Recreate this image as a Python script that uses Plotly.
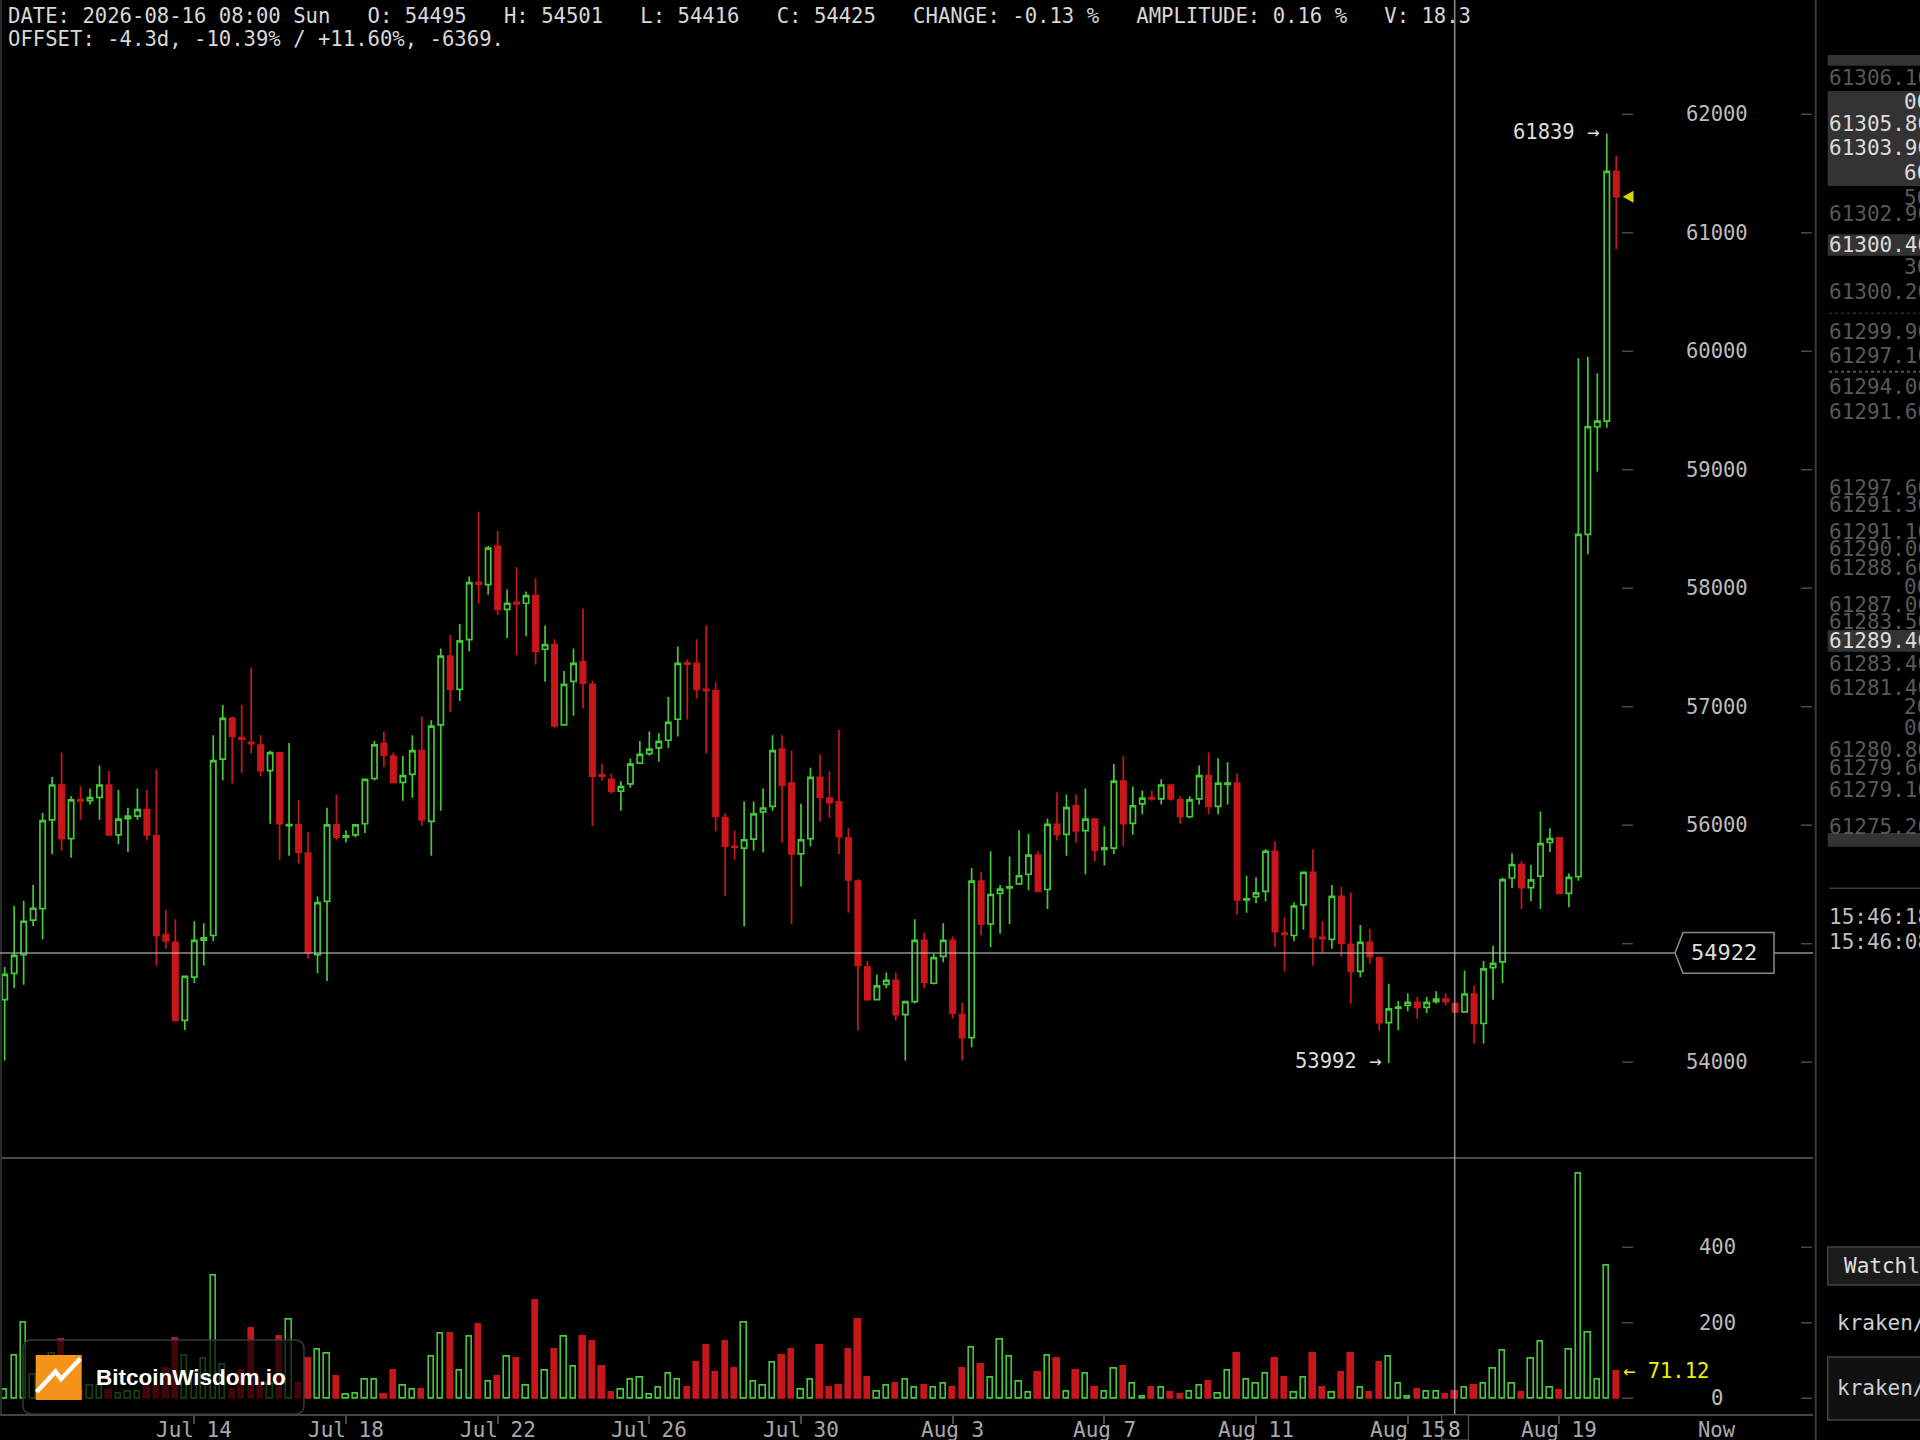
import plotly.graph_objects as go
import pandas as pd

W, H = 1920, 1440


def px(x):
    return x / W


def py(y):
    return 1 - y / H


# ---------------- data (6h candles) ----------------
times = pd.date_range("2026-07-09 00:00", periods=171, freq="6h")

opens = [54527, 54750, 54908, 55198, 55296, 56045, 56339, 55886, 56215, 56206,
         56235, 56339, 55919, 56055, 56077, 56132, 55909, 55076, 55011, 54352,
         54717, 55030, 55069, 56558, 56901, 56740, 56700, 56675, 56461, 56610,
         55995, 56003, 55764, 54908, 55357, 56003, 55899, 55919, 56012, 56394,
         56691, 56584, 56361, 56429, 56629, 56032, 56846, 57427, 57146, 57566,
         58050, 58031, 58354, 57821, 57880, 57873, 57938, 57485, 57524, 56846,
         57214, 57379, 57188, 56425, 56387, 56287, 56348, 56523, 56604, 56652,
         56717, 56894, 57370, 57366, 57146, 57136, 56064, 55822, 55806, 55883,
         56113, 56158, 56642, 56355, 55757, 55886, 56403, 56229, 56197, 55893,
         55528, 54804, 54527, 54656, 54691, 54401, 54511, 55027, 54666, 54892,
         55027, 54401, 54207, 55528, 55166, 55425, 55470, 55505, 55586, 55748,
         55457, 56006, 55922, 56164, 55954, 56051, 55795, 55806, 56371, 56016,
         56180, 56232, 56222, 56339, 56213, 56071, 56222, 56419, 56158, 56345,
         56355, 55370, 55396, 55441, 55780, 55090, 55069, 55328, 55602, 55053,
         55037, 55399, 54995, 54766, 55011, 54882, 54333, 54455, 54478, 54504,
         54462, 54511, 54533, 54495, 54425, 54575, 54326, 54798, 54846, 55554,
         55667, 55473, 55570, 55854, 55893, 55425, 55565, 58455, 59363, 59411,
         61519]

highs = [54804, 55318, 55363, 55496, 56103, 56407, 56613, 56245, 56329, 56310,
         56503, 56458, 56297, 56148, 56310, 56297, 56471, 55286, 55205, 54730,
         55189, 55173, 56759, 57014, 56917, 57014, 57330, 56759, 56629, 56615,
         56694, 56213, 55941, 55399, 56148, 56258, 55958, 56010, 56395, 56710,
         56791, 56613, 56584, 56759, 56917, 56885, 57492, 57605, 57699, 58099,
         58645, 58357, 58483, 57989, 58180, 57973, 58083, 57686, 57569, 57301,
         57492, 57828, 57220, 56516, 56436, 56371, 56562, 56710, 56791, 56775,
         57082, 57508, 57398, 57569, 57686, 57204, 56100, 55954, 56200, 56200,
         56310, 56759, 56759, 56629, 56180, 56484, 56597, 56455, 56804, 55974,
         55544, 54853, 54740, 54756, 54756, 54515, 55205, 55092, 54914, 55173,
         55060, 54504, 55638, 55605, 55780, 55496, 55735, 55958, 55925, 55780,
         56054, 56277, 56258, 56258, 56310, 56058, 55990, 56516, 56581, 56326,
         56293, 56293, 56387, 56345, 56245, 56245, 56503, 56613, 56565, 56532,
         56436, 55573, 55560, 55796, 55864, 55221, 55347, 55610, 55796, 55189,
         55496, 55480, 55431, 55157, 55124, 54890, 54662, 54517, 54582, 54549,
         54549, 54598, 54582, 54501, 54772, 54646, 54853, 54982, 55557, 55764,
         55699, 55667, 56116, 55974, 55900, 55593, 59941, 59954, 59814, 61839,
         61651]

lows = [54013, 54624, 54653, 55150, 55037, 55757, 55786, 55725, 56045, 56174,
        56045, 55910, 55838, 55773, 56045, 55870, 54814, 54956, 54345, 54271,
        54669, 54814, 55021, 56377, 56352, 56442, 56604, 56410, 56012, 55709,
        55741, 55677, 54875, 54750, 54685, 55870, 55854, 55899, 55935, 56377,
        56490, 56355, 56206, 56232, 55996, 55741, 56122, 56956, 57049, 57469,
        57870, 57944, 57773, 57579, 57437, 57595, 57356, 57211, 56823, 56840,
        56923, 56985, 55996, 56374, 56264, 56122, 56316, 56520, 56587, 56536,
        56652, 56749, 56891, 57069, 56604, 55948, 55402, 55709, 55147, 55786,
        55770, 56122, 55851, 55163, 55483, 55819, 56029, 56061, 55757, 55260,
        54268, 54520, 54520, 54624, 54352, 54013, 54495, 54624, 54656, 54843,
        54368, 54013, 54126, 55069, 54972, 55085, 55166, 55500, 55450, 55435,
        55292, 55870, 55741, 55854, 55583, 55693, 55660, 55757, 55822, 55919,
        56093, 56206, 56174, 56206, 56012, 56061, 56174, 56093, 56093, 56174,
        55244, 55260, 55341, 55357, 54972, 54766, 55021, 55118, 54814, 54924,
        54956, 54892, 54494, 54717, 54830, 54268, 53992, 54271, 54430, 54365,
        54414, 54494, 54478, 54416, 54420, 54158, 54158, 54527, 54669, 55470,
        55292, 55357, 55292, 55773, 55420, 55308, 55531, 58286, 58983, 59355,
        60861]

closes = [54740, 54901, 55189, 55299, 56038, 56339, 55886, 56213, 56205, 56232,
          56339, 55919, 56051, 56077, 56132, 55919, 55069, 55024, 54352, 54724,
          55027, 55050, 56545, 56901, 56749, 56726, 56688, 56461, 56613, 56012,
          56005, 55773, 54924, 55347, 56003, 55899, 55909, 56003, 56387, 56678,
          56591, 56361, 56419, 56629, 56045, 56836, 57427, 57146, 57556, 58047,
          58035, 58338, 57821, 57873, 57868, 57938, 57469, 57524, 56839, 57188,
          57366, 57198, 56413, 56413, 56287, 56326, 56516, 56597, 56642, 56707,
          56868, 57366, 57360, 57146, 57136, 56074, 55822, 55812, 55877, 56096,
          56145, 56629, 56335, 55757, 55877, 56403, 56235, 56190, 55903, 55538,
          54817, 54527, 54643, 54691, 54401, 54511, 55027, 54672, 54882, 55027,
          54414, 54207, 55528, 55166, 55415, 55460, 55480, 55573, 55748, 55441,
          56006, 55922, 56148, 55951, 56051, 55790, 55809, 56371, 56012, 56164,
          56229, 56222, 56339, 56222, 56077, 56213, 56419, 56158, 56355, 56355,
          55370, 55379, 55428, 55780, 55102, 55079, 55318, 55602, 55053, 55043,
          55399, 55005, 54766, 55011, 54892, 54333, 54449, 54465, 54504, 54462,
          54504, 54533, 54511, 54425, 54575, 54326, 54788, 54834, 55541, 55667,
          55473, 55538, 55844, 55886, 55425, 55560, 58455, 59363, 59411, 61519,
          61305]

volumes = [23, 114, 199, 63, 40, 118, 154, 25, 20, 34,
           34, 19, 12, 18, 18, 30, 30, 79, 159, 114,
           70, 104, 324, 89, 19, 74, 185, 40, 40, 164,
           208, 39, 104, 129, 118, 58, 9, 12, 49, 49,
           9, 74, 34, 23, 23, 109, 170, 170, 74, 164,
           195, 44, 58, 109, 104, 34, 259, 74, 129, 164,
           84, 164, 149, 84, 14, 23, 49, 54, 9, 28,
           64, 49, 28, 94, 139, 69, 149, 79, 199, 44,
           34, 94, 114, 129, 23, 49, 139, 28, 34, 129,
           209, 54, 18, 34, 39, 49, 28, 34, 28, 39,
           28, 79, 134, 89, 54, 155, 109, 44, 14, 69,
           114, 104, 18, 74, 64, 28, 18, 79, 84, 39,
           4, 28, 28, 14, 9, 18, 34, 44, 12, 74,
           119, 49, 39, 64, 104, 54, 14, 54, 119, 28,
           14, 69, 119, 28, 14, 94, 109, 39, 4, 23,
           18, 18, 9, 18.3, 28, 34, 39, 79, 125, 39,
           14, 104, 149, 28, 19, 129, 595, 174, 49, 350,
           71.12]

price_ticks = [62000, 61000, 60000, 59000, 58000, 57000, 56000, 55000, 54000]
vol_ticks = [400, 200, 0]
date_ticks = ["2026-07-14", "2026-07-18", "2026-07-22", "2026-07-26", "2026-07-30",
              "2026-08-03", "2026-08-07", "2026-08-11", "2026-08-15", "2026-08-19"]
date_labels = ["Jul 14", "Jul 18", "Jul 22", "Jul 26", "Jul 30",
               "Aug 3", "Aug 7", "Aug 11", "Aug 15", "Aug 19"]

header_1 = ("DATE: 2026-08-16 08:00 Sun   O: 54495   H: 54501   L: 54416   "
            "C: 54425   CHANGE: -0.13 %   AMPLITUDE: 0.16 %   V: 18.3")
header_2 = "OFFSET: -4.3d, -10.39% / +11.60%, -6369."
high_label = "61839"
low_label = "53992"
cross_price = 54922
last_price = 61305
last_volume = "71.12"

# order book panel (text, kind, y)  kind: g = grey, b = bright, *r = right-side fragment
book = [
    ("61306.10", "g", 77.7), ("00", "br", 101.7), ("61305.80", "b", 124),
    ("61303.90", "b", 148.3), ("60", "br", 173.3), ("50", "gr", 198.3),
    ("61302.90", "g", 214.3), ("61300.40", "b", 245), ("30", "gr", 266.7),
    ("61300.20", "g", 292.3), ("61299.90", "g", 331.7), ("61297.10", "g", 356),
    ("61294.00", "g", 386.7), ("61291.60", "g", 411.7), ("61297.60", "g", 488.3),
    ("61291.30", "g", 505), ("61291.10", "g", 531.7), ("61290.00", "g", 549.3),
    ("61288.60", "g", 568.3), ("00", "gr", 586.7), ("61287.00", "g", 605),
    ("61283.50", "g", 621.7), ("61289.40", "b", 641), ("61283.40", "g", 664),
    ("61281.40", "g", 688.3), ("20", "gr", 706.7), ("00", "gr", 728.3),
    ("61280.80", "g", 750), ("61279.60", "g", 768.3), ("61279.10", "g", 790),
    ("61275.20", "g", 826.7),
]
trade_times = ["15:46:18", "15:46:08"]

GREEN = "#45c93b"
RED = "#c9161b"
MONO = "DejaVu Sans Mono"

# ---------------- geometry ----------------
PLOT_R = 1813
PRICE_BOT = 1156.7
VOL_BOT = 1414
Y62 = 114.3
PX_PER_PRICE = 0.11848
VOL0 = 1398.3
PX_PER_VOL = 0.3775


def price_y(p):
    return Y62 + (62000 - p) * PX_PER_PRICE


def vol_y(v):
    return VOL0 - v * PX_PER_VOL


t0 = times[0]
x_range = [t0 - pd.Timedelta(hours=2.975), t0 + pd.Timedelta(hours=1144.5)]
price_range = [62000 - (PRICE_BOT - Y62) / PX_PER_PRICE, 62000 + Y62 / PX_PER_PRICE]
vol_range = [-(VOL_BOT - VOL0) / PX_PER_VOL, (VOL0 - PRICE_BOT) / PX_PER_VOL]

fig = go.Figure()

fig.add_trace(go.Candlestick(
    x=times, open=opens, high=highs, low=lows, close=closes,
    increasing=dict(line=dict(color=GREEN, width=1.7), fillcolor="#000000"),
    decreasing=dict(line=dict(color=RED, width=1.7), fillcolor=RED),
    whiskerwidth=0, xaxis="x", yaxis="y", showlegend=False, hoverinfo="skip"))

up = [c > o for o, c in zip(opens, closes)]
fig.add_trace(go.Bar(
    x=times, y=volumes, xaxis="x2", yaxis="y2",
    width=6 * 3600 * 1000 * 0.56,
    marker=dict(color=["#000000" if u else RED for u in up],
                line=dict(color=[GREEN if u else RED for u in up], width=1.6)),
    showlegend=False, hoverinfo="skip"))

shapes = []
annotations = []


def hline(x0, x1, y, color, width=1.5, layer="above", dash="solid"):
    shapes.append(dict(type="line", xref="paper", yref="paper", x0=px(x0), x1=px(x1),
                       y0=py(y), y1=py(y), line=dict(color=color, width=width, dash=dash),
                       layer=layer))


def vline(x, y0, y1, color, width=1.5, layer="above"):
    shapes.append(dict(type="line", xref="paper", yref="paper", x0=px(x), x1=px(x),
                       y0=py(y0), y1=py(y1), line=dict(color=color, width=width), layer=layer))


def rect(x0, y0, x1, y1, fill, line=None, width=0, layer="above"):
    shapes.append(dict(type="rect", xref="paper", yref="paper", x0=px(x0), x1=px(x1),
                       y0=py(y1), y1=py(y0), fillcolor=fill,
                       line=dict(color=line or fill, width=width), layer=layer))


def path(points, fill=None, line="rgba(0,0,0,0)", width=0, closed=True, layer="above"):
    d = "M " + " L ".join(f"{px(x):.5f},{py(y):.5f}" for x, y in points)
    if closed:
        d += " Z"
    shapes.append(dict(type="path", xref="paper", yref="paper", path=d,
                       fillcolor=fill if fill else "rgba(0,0,0,0)",
                       line=dict(color=line, width=width), layer=layer))


def text(x, y, s, color="#d8d8d8", size=20.5, anchor="left", family=MONO):
    annotations.append(dict(xref="paper", yref="paper", x=px(x), y=py(y), text=s,
                            showarrow=False, xanchor=anchor, yanchor="middle",
                            borderpad=0,
                            font=dict(family=family, size=size, color=color)))


# frame lines
vline(1, 0, VOL_BOT, "#2a2a2a", 2)
vline(1815.7, 0, H, "#3a3a3a", 2)

# date labels under the volume panel (placed on the shared time axis)
for tv, tl in zip(date_ticks, date_labels):
    annotations.append(dict(xref="x2", yref="paper", x=pd.Timestamp(tv), y=py(1429.5),
                            text=tl, showarrow=False, xanchor="center", yanchor="middle",
                            borderpad=0, font=dict(family=MONO, size=21, color="#a8a8a8")))

# price axis labels and ticks
for p in price_ticks:
    y = price_y(p)
    hline(1622, 1633, y, "#4a4a4a", 1.5)
    hline(1801, 1812, y, "#4a4a4a", 1.5)
    if p != 55000:
        text(1717, y, str(p), "#bcbcbc", 20.5, "center")

# volume axis labels and ticks
for v in vol_ticks:
    y = vol_y(v)
    hline(1622, 1633, y, "#4a4a4a", 1.5)
    hline(1801, 1812, y, "#4a4a4a", 1.5)
    text(1717, y, str(v), "#bcbcbc", 20.5, "center")

text(1717, 1429.5, "Now", "#aaaaaa", 20.5, "center")

# crosshair
hline(0, PLOT_R, price_y(cross_price), "rgba(190,190,190,0.75)", 1.5)
vline(1454.7, 0, VOL_BOT, "rgba(190,190,190,0.75)", 1.5)
cy = price_y(cross_price)
path([(1675, cy), (1683, cy - 20.3), (1774, cy - 20.3), (1774, cy + 20.3), (1683, cy + 20.3)],
     fill="#000000", line="#8a8a8a", width=1.5)
text(1724, cy, str(cross_price), "#dddddd", 22, "center")
rect(1441.7, 1415, 1468.5, 1440, "#000000", "#555555", 1.2)
text(1454, 1430, "8", "#bbbbbb", 21, "center")

# high / low markers
text(1600, 131.7, high_label + " \u2192", "#dddddd", 20.5, "right")
text(1382, 1060.6, low_label + " \u2192", "#dddddd", 20.5, "right")

# last price triangle, last volume label
ly = price_y(last_price)
path([(1622.7, ly), (1633.5, ly - 6), (1633.5, ly + 6)], fill="#d6d600")
text(1622, vol_y(71.12), "\u2190 " + last_volume, "#f2ee00", 20.5, "left")

# header
text(7, 16, header_1.replace(" ", "&nbsp;"), "#d8d8d8", 20.6, "left")
text(7, 39, header_2.replace(" ", "&nbsp;"), "#d8d8d8", 20.6, "left")

# logo box (dims the bars under it)
r = 9
x0l, x1l, y0l, y1l = 23, 304, 1340, 1414
d = (f"M {px(x0l + r):.5f},{py(y0l):.5f} L {px(x1l - r):.5f},{py(y0l):.5f} "
     f"Q {px(x1l):.5f},{py(y0l):.5f} {px(x1l):.5f},{py(y0l + r):.5f} "
     f"L {px(x1l):.5f},{py(y1l - r):.5f} Q {px(x1l):.5f},{py(y1l):.5f} {px(x1l - r):.5f},{py(y1l):.5f} "
     f"L {px(x0l + r):.5f},{py(y1l):.5f} Q {px(x0l):.5f},{py(y1l):.5f} {px(x0l):.5f},{py(y1l - r):.5f} "
     f"L {px(x0l):.5f},{py(y0l + r):.5f} Q {px(x0l):.5f},{py(y0l):.5f} {px(x0l + r):.5f},{py(y0l):.5f} Z")
shapes.append(dict(type="path", xref="paper", yref="paper", path=d,
                   fillcolor="rgba(0,0,0,0.68)", line=dict(color="#383838", width=1.5),
                   layer="above"))
rect(35.7, 1355, 81.7, 1400, "#f5931b")
path([(36.5, 1392), (55.5, 1371.5), (61, 1379), (80.5, 1358.5)], line="#ffffff", width=4.5,
     closed=False)
text(95, 1377.5, "<b>BitcoinWisdom.io</b>", "#ffffff", 22.5, "left", "Liberation Sans")

# order book panel
rect(1827.7, 55, 1925, 65.7, "#333333")
rect(1827.7, 91, 1925, 186, "#333333")
rect(1827.7, 234.3, 1925, 255.7, "#333333")
rect(1827.7, 630, 1925, 651.7, "#333333")
rect(1827.7, 833, 1925, 846.7, "#333333")
for s, kind, y in book:
    col = "#dcdcdc" if kind.startswith("b") else "#595959"
    x = 1903 if kind.endswith("r") else 1828
    text(x, y, s, col, 21, "left")
hline(1829, 1920, 313.3, "#2c2c2c", 1.5, dash="dot")
hline(1829, 1920, 371.7, "#555555", 2, dash="dot")
hline(1829, 1920, 888.3, "#3c3c3c", 1.5)
text(1828, 916.7, trade_times[0], "#bdbdbd", 21, "left")
text(1828, 941.7, trade_times[1], "#bdbdbd", 21, "left")
rect(1827.7, 1247, 1930, 1285, "#1b1b1b", "#444444", 1.5)
text(1842.7, 1266, "Watchlist", "#e0e0e0", 21, "left")
text(1835.7, 1323, "kraken/btcusd", "#cfcfcf", 21, "left")
rect(1827.7, 1357, 1930, 1420, "#111111", "#444444", 1.5)
text(1835.7, 1388, "kraken/btcusd", "#cfcfcf", 21, "left")

fig.update_layout(
    width=W, height=H, margin=dict(l=0, r=0, t=0, b=0, pad=0, autoexpand=False),
    paper_bgcolor="#000000", plot_bgcolor="#000000",
    showlegend=False, boxgap=0.2, boxgroupgap=0.3, bargap=0,
    xaxis=dict(domain=[0, px(PLOT_R)], range=x_range, anchor="y", automargin=False,
               showticklabels=False, showgrid=False, zeroline=False, ticks="",
               showline=True, linecolor="#4a4a4a", linewidth=1.5,
               rangeslider=dict(visible=False)),
    yaxis=dict(domain=[py(PRICE_BOT), 1], range=price_range, anchor="x", automargin=False,
               showticklabels=False, showgrid=False, zeroline=False, ticks=""),
    xaxis2=dict(domain=[0, px(PLOT_R)], range=x_range, anchor="y2", matches="x",
                automargin=False,
                tickmode="array", tickvals=pd.to_datetime(date_ticks), ticktext=date_labels,
                showticklabels=False,
                ticks="outside", ticklen=8, tickwidth=1.5, tickcolor="#4a4a4a",
                showgrid=False, zeroline=False,
                showline=True, linecolor="#444444", linewidth=2),
    yaxis2=dict(domain=[py(VOL_BOT), py(PRICE_BOT)], range=vol_range, anchor="x2",
                automargin=False,
                showticklabels=False, showgrid=False, zeroline=False, ticks=""),
    shapes=shapes, annotations=annotations,
)

fig.write_html("out.html", config={"displayModeBar": False},
               post_script="document.body.style.margin='0';document.body.style.overflow='hidden';")
